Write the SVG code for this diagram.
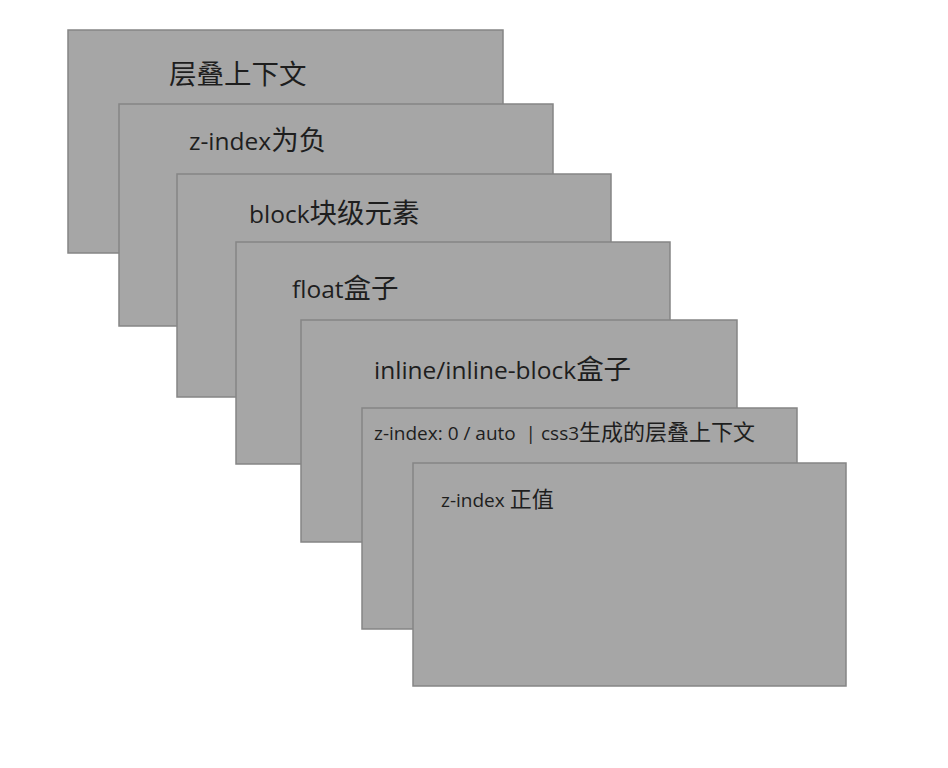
<svg xmlns="http://www.w3.org/2000/svg" width="948" height="768" viewBox="0 0 948 768">
<style>
.box{fill:#a6a6a6;stroke:#858585;stroke-width:1.5}
.t{fill:#1e1e1e;font-family:"Open Sans","Noto Sans CJK SC",sans-serif}
.l{font-size:24.5px}
.lc{font-size:27.5px;font-family:"Noto Sans CJK SC",sans-serif}
.s{font-size:19px}
.sc{font-size:22px;font-family:"Noto Sans CJK SC",sans-serif}
</style>
<rect width="948" height="768" fill="#ffffff"/>
<g id="n1"><rect class="box" x="68" y="30" width="435" height="223"/><text class="t lc" x="169" y="84">层叠上下文</text></g>
<g id="n2"><rect class="box" x="119" y="104" width="434" height="222"/><text class="t l" x="189" y="150">z-index<tspan class="lc">为负</tspan></text></g>
<g id="n3"><rect class="box" x="177" y="174" width="434" height="223"/><text class="t l" x="249" y="223">block<tspan class="lc">块级元素</tspan></text></g>
<g id="n4"><rect class="box" x="236" y="242" width="434" height="222"/><text class="t l" x="292" y="298">float<tspan class="lc">盒子</tspan></text></g>
<g id="n5"><rect class="box" x="301" y="320" width="436" height="222"/><text class="t l" x="374" y="379">inline/inline-block<tspan class="lc">盒子</tspan></text></g>
<g id="n6"><rect class="box" x="362" y="408" width="435" height="221"/><text class="t s" x="374" y="440" xml:space="preserve">z-index: 0 / auto  | css3<tspan class="sc">生成的层叠上下文</tspan></text></g>
<g id="n7"><rect class="box" x="413" y="463" width="433" height="223"/><text class="t s" x="441" y="507">z-index <tspan class="sc">正值</tspan></text></g>
<g id="connectors"></g>
</svg>
